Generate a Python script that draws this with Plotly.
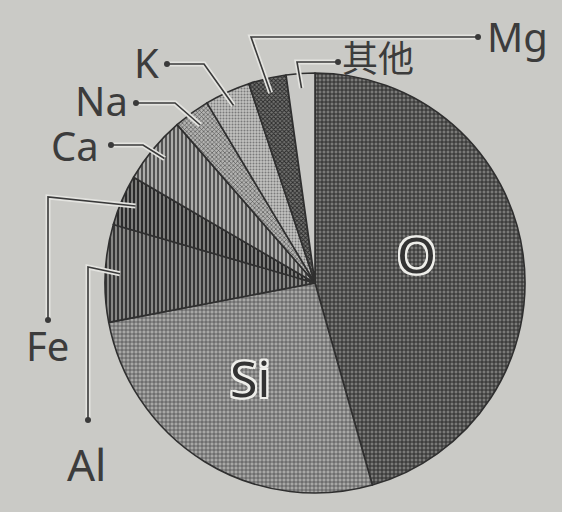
import math
import plotly.graph_objects as go

# ---- data ----
elements = ["O", "Si", "Al", "Fe", "Ca", "Na", "K", "Mg", "其他"]
shares = [45.6, 26.4, 7.5, 3.9, 5.2, 2.8, 3.5, 2.9, 2.2]

W, H = 562, 512
CX, CY, R = 315, 283, 210  # pie centre / radius in px
BG = "#cacac6"
INK = "#3c3c3c"

pat_shape = ["+", "+", "|", "|", "|", "x", ".", "x", ""]
pat_bg = ["#7a7a78", "#a8a8a6", "#888886", "#7e7e7c", "#acacaa", "#b4b4b2", "#c2c2c0", "#747472", "#c8c8c5"]
pat_fg = ["#2c2c2c", "#404040", "#2e2e2e", "#2a2a2a", "#3c3c3c", "#555555", "#7a7a7a", "#2a2a2a", "#c8c8c5"]
pat_size = [4, 4, 4, 4, 4, 3, 3, 3, 4]
pat_sol = [0.45, 0.3, 0.45, 0.5, 0.4, 0.4, 0.35, 0.5, 0.1]

fig = go.Figure(go.Pie(
    labels=elements, values=shares, sort=False, direction="clockwise", rotation=0,
    textinfo="none", hoverinfo="label+percent", showlegend=False,
    marker=dict(
        colors=pat_bg,
        line=dict(color="#2f2f2f", width=1.6),
        pattern=dict(shape=pat_shape, bgcolor=pat_bg, fgcolor=pat_fg,
                     size=pat_size, solidity=pat_sol, fillmode="replace"),
    ),
    domain=dict(x=[(CX - R) / W, (CX + R) / W], y=[1 - (CY + R) / H, 1 - (CY - R) / H]),
))


def px2paper(x, y):
    return x / W, 1 - y / H


total = sum(shares)
mid_angle = {}
cum = 0
for e, v in zip(elements, shares):
    mid_angle[e] = 360 * (cum + v / 2) / total
    cum += v


def slice_point(e, k):
    a = math.radians(mid_angle[e])
    return CX + k * R * math.sin(a), CY - k * R * math.cos(a)


annotations = []
shapes = []
halo = ("0 0 2px #eeeeea, 2px 0 0 #eeeeea, -2px 0 0 #eeeeea, 0 2px 0 #eeeeea, 0 -2px 0 #eeeeea, "
        "2px 2px 0 #eeeeea, -2px -2px 0 #eeeeea, 2px -2px 0 #eeeeea, -2px 2px 0 #eeeeea")

# inside labels: element, radius factor, pixel nudge
for e, k, (ox, oy) in [("O", 0.5, (-2, -15)), ("Si", 0.55, (-4, -3))]:
    x, y = slice_point(e, k)
    px, py = px2paper(x + ox, y + oy)
    annotations.append(dict(x=px, y=py, xref="paper", yref="paper", text=e, showarrow=False,
                            xanchor="center", yanchor="middle",
                            font=dict(family="Noto Sans", size=50, color="#333333", shadow=halo)))

# outside labels with leaders: label, text centre, font size, dot, elbow
leaders = [
    ("Mg", (517, 36), 40, (478, 37), (251, 37)),
    ("其他", (378, 58), 36, (338, 62), (297, 62)),
    ("K", (146, 62), 40, (167, 64), (204, 64)),
    ("Na", (101, 100), 40, (136, 103), (175, 103)),
    ("Ca", (75, 145), 40, (111, 145), (143, 145)),
    ("Fe", (47, 345), 40, (48, 320), (48, 197)),
    ("Al", (86, 464), 44, (88, 420), (88, 267)),
]

for e, (tx, ty), fs, dot, elbow in leaders:
    end = slice_point(e, 0.93)
    pts = [dot, elbow, end]
    path = "M " + " L ".join("%f %f" % px2paper(x, y) for x, y in pts)
    shapes.append(dict(type="path", xref="paper", yref="paper", path=path,
                       line=dict(color="#e4e4e0", width=5)))
    shapes.append(dict(type="path", xref="paper", yref="paper", path=path,
                       line=dict(color="#3a3a3a", width=1.6)))
    x0, y0 = px2paper(dot[0] - 3, dot[1] + 3)
    x1, y1 = px2paper(dot[0] + 3, dot[1] - 3)
    shapes.append(dict(type="circle", xref="paper", yref="paper", x0=x0, y0=y0, x1=x1, y1=y1,
                       fillcolor="#3a3a3a", line=dict(color="#3a3a3a", width=0)))
    px, py = px2paper(tx, ty)
    annotations.append(dict(x=px, y=py, xref="paper", yref="paper", text=e, showarrow=False,
                            xanchor="center", yanchor="middle",
                            font=dict(family="Noto Sans, Noto Sans CJK SC", size=fs, color=INK)))

fig.update_layout(
    width=W, height=H, margin=dict(l=0, r=0, t=0, b=0),
    paper_bgcolor=BG, plot_bgcolor=BG,
    annotations=annotations, shapes=shapes,
)

fig.write_html("out.html")
